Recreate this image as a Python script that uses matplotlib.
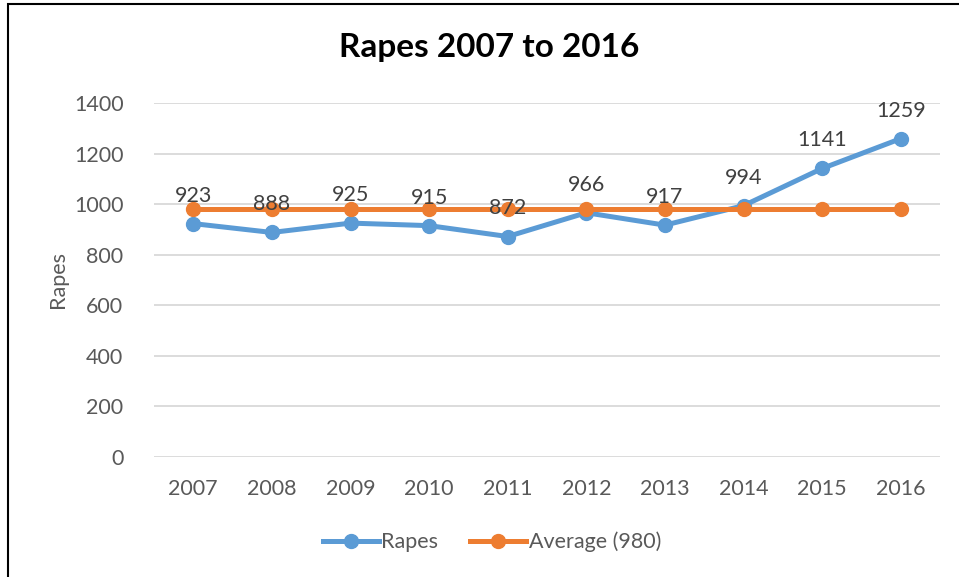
import matplotlib.pyplot as plt
from matplotlib.patches import Rectangle

years = ['2007', '2008', '2009', '2010', '2011', '2012', '2013', '2014', '2015', '2016']
rapes = [923, 888, 925, 915, 872, 966, 917, 994, 1141, 1259]
average = [980] * len(years)

blue = '#5B9BD5'
orange = '#ED7D31'
grey_text = '#595959'

plt.rcParams['font.family'] = ['Lato', 'DejaVu Sans']

fig = plt.figure(figsize=(9.59, 5.77), dpi=100)
ax = fig.add_axes([154 / 959, 1 - 457 / 577, 786 / 959, 354 / 577])

x = list(range(len(years)))
ax.plot(x, rapes, color=blue, lw=3.6, marker='o', markersize=10, label='Rapes', zorder=3)
ax.plot(x, average, color=orange, lw=3.6, marker='o', markersize=10, label='Average (980)', zorder=4)

for xi, v in zip(x, rapes):
    ax.annotate(str(v), (xi, v), xytext=(0, 13), textcoords='offset points',
                ha='center', va='bottom', fontsize=15.5, color='#404040', zorder=5)

ax.set_xlim(-0.5, len(years) - 0.5)
ax.set_ylim(0, 1400)
ax.set_yticks(range(0, 1401, 200))
ax.set_xticks(x)
ax.set_xticklabels(years)
ax.tick_params(axis='both', length=0, labelsize=15.5, colors=grey_text)
ax.tick_params(axis='x', pad=16)
ax.tick_params(axis='y', pad=22)
ax.grid(axis='y', color='#D9D9D9', lw=1.3)
ax.set_axisbelow(True)
for s in ax.spines.values():
    s.set_visible(False)

ax.set_ylabel('Rapes', fontsize=15.5, color=grey_text, labelpad=4)
fig.text(489 / 959, 1 - 48 / 577, 'Rapes 2007 to 2016',
         ha='center', va='center', fontsize=24, fontweight='bold', color='black')

fig.legend(loc='center', bbox_to_anchor=(492 / 959, 1 - 542 / 577), ncol=2,
           frameon=False, fontsize=15.5, labelcolor=grey_text, handlelength=2.6,
           handletextpad=0.1, columnspacing=1.5)

fig.patches.append(Rectangle((8 / 959, -0.1), 1.2, 1 - 4 / 577 + 0.1,
                             transform=fig.transFigure, fill=False,
                             edgecolor='black', lw=1.5))

fig.savefig('out.png', dpi=100)
